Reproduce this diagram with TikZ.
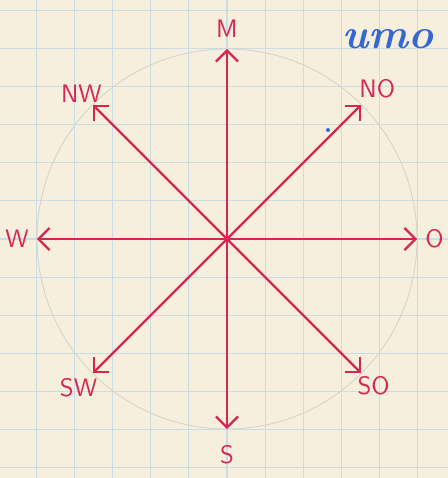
\documentclass[tikz,border=0pt]{standalone}
\usetikzlibrary{arrows.meta}
\definecolor{paper}{RGB}{246,239,221}
\definecolor{gridblue}{RGB}{200,221,230}
\definecolor{inkred}{RGB}{214,38,84}
\definecolor{inkblue}{RGB}{52,104,212}
\definecolor{pencil}{RGB}{214,211,204}
\begin{document}
\begin{tikzpicture}[
    ray/.style={-{Straight Barb[length=2.2mm, width=4.4mm]}, line width=1.3pt, draw=inkred},
    lab/.style={text=inkred, font=\sffamily\Large, inner sep=0pt},
    squares/.style={draw=gridblue, line width=0.6pt}
]
\useasboundingbox (-4.54,-4.78) rectangle (4.42,4.78);
\clip (-4.54,-4.78) rectangle (4.42,4.78);
\fill[paper] (-4.54,-4.78) rectangle (4.42,4.78);
% squared paper
\foreach \k in {-5,...,5} \draw[squares] (0.762*\k,-4.78) -- (0.762*\k,4.78);
\foreach \k in {-6,...,6} \draw[squares] (-4.54,0.762*\k) -- (4.42,0.762*\k);
\draw[pencil, line width=0.5pt] (0,0) circle (3.8);
\coordinate (c) at (0,0);
% the eight directions
\foreach \ang/\dir/\txt/\r in {90/n/M/4.2, 45/no/NO/4.25, 0/o/O/4.15, -45/so/SO/4.15, -90/s/S/4.32, -135/sw/SW/4.2, 180/w/W/4.2, 135/nw/NW/4.12} {
  \coordinate (\dir) at (\ang:3.8);
  \node[lab] (l\dir) at (\ang:\r) {\txt};
  \draw[ray] (c) -- (\dir);
}
\node[text=inkblue, font=\fontsize{24}{24}\selectfont\bfseries\itshape, anchor=base west, inner sep=0pt] (word) at (2.3,3.8) {umo};
\fill[inkblue] (2.02,2.18) circle (0.04);
\end{tikzpicture}
\end{document}
